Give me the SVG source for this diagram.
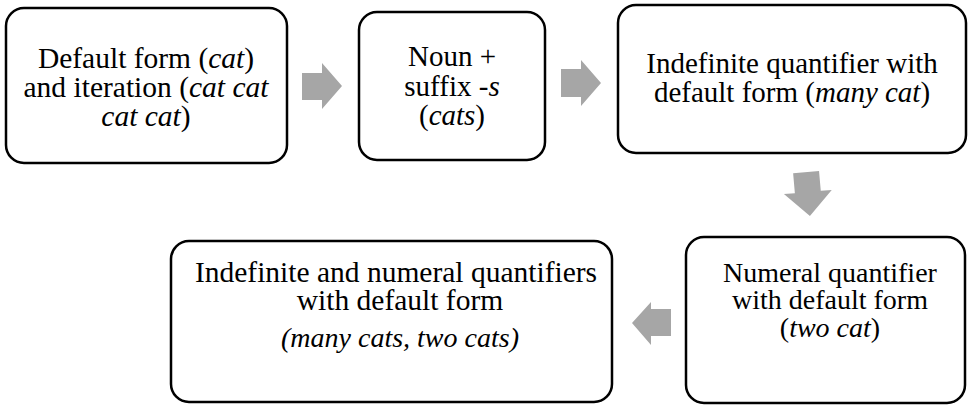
<svg xmlns="http://www.w3.org/2000/svg" width="968" height="405" viewBox="0 0 968 405">
<style>
.box{fill:#fff;stroke:#000;stroke-width:2.5}
.arr{fill:#a6a6a6;stroke:none}
text{font-family:'Liberation Serif','Times New Roman',serif;fill:#000;text-anchor:middle}
.i{font-style:italic}
</style>
<rect width="968" height="405" fill="#fff"/>
<g id="connectors">
<polygon class="arr" points="302,73 322,73 322,63 342,86 322,109 322,100 302,100"/>
<polygon class="arr" points="561,69 581,69 581,60 601,83 581,106 581,97 561,97"/>
<polygon class="arr" transform="rotate(-5 808 194)" points="795,172 821,172 821,192 832,192 808,216 784,192 795,192"/>
<polygon class="arr" points="671,309 651,309 651,302 632,323 651,345 651,336 671,336"/>
</g>
<g id="n1" font-size="29.5">
<rect class="box" x="6" y="8" width="281" height="155" rx="18"/>
<text x="146" y="68">Default form (<tspan class="i">cat</tspan>)</text>
<text x="146" y="97">and iteration (<tspan class="i">cat cat</tspan></text>
<text x="146" y="126"><tspan class="i">cat cat</tspan>)</text>
</g>
<g id="n2" font-size="29">
<rect class="box" x="359" y="12" width="186" height="148" rx="18"/>
<text x="452" y="66">Noun +</text>
<text x="452" y="95.5">suffix -<tspan class="i">s</tspan></text>
<text x="452" y="125">(<tspan class="i">cats</tspan>)</text>
</g>
<g id="n3" font-size="29">
<rect class="box" x="618" y="5" width="348" height="148" rx="18"/>
<text x="792" y="73">Indefinite quantifier with</text>
<text x="792" y="102">default form (<tspan class="i">many cat</tspan>)</text>
</g>
<g id="n4" font-size="28">
<rect class="box" x="686" y="237" width="279" height="166" rx="18"/>
<text x="830" y="281.5">Numeral quantifier</text>
<text x="830" y="309">with default form</text>
<text x="830" y="336.5">(<tspan class="i">two cat</tspan>)</text>
</g>
<g id="n5" font-size="29.5">
<rect class="box" x="171" y="241" width="441" height="161" rx="18"/>
<text x="396" y="282">Indefinite and numeral quantifiers</text>
<text x="400" y="310">with default form</text>
<text x="400" y="347" class="i" font-size="28">(many cats, two cats)</text>
</g>
</svg>
